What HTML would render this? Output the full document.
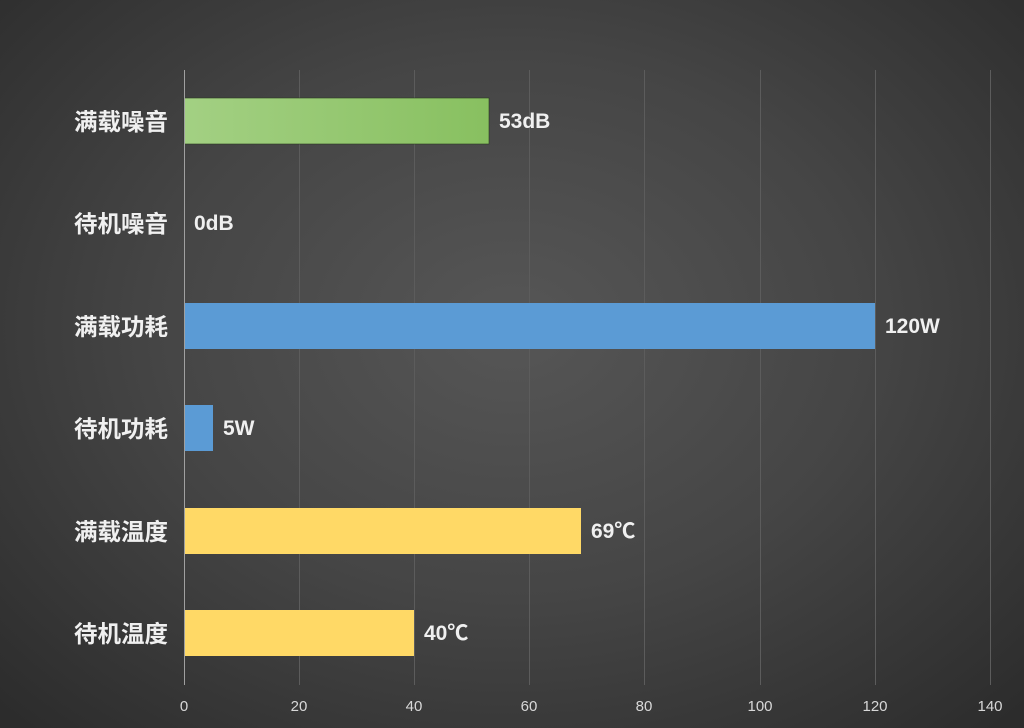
<!DOCTYPE html>
<html><head><meta charset="utf-8"><style>
html,body{margin:0;padding:0}
body{width:1024px;height:728px;overflow:hidden;background:radial-gradient(ellipse 70% 75% at 50% 45%,#565656 0%,#454545 50%,#2c2c2c 100%);font-family:"Liberation Sans","Noto Sans CJK SC",sans-serif;}
</style></head><body>
<svg width="1024" height="728" xmlns="http://www.w3.org/2000/svg" style="position:absolute;left:0;top:0">
<defs>
<linearGradient id="g" x1="0" x2="1"><stop offset="0" stop-color="#a3d083"/><stop offset="1" stop-color="#88c060"/></linearGradient>
</defs>
<g stroke="#5c5c5c" stroke-width="1">
<line x1="299.5" y1="70" x2="299.5" y2="685"/><line x1="414.5" y1="70" x2="414.5" y2="685"/>
<line x1="529.5" y1="70" x2="529.5" y2="685"/><line x1="644.5" y1="70" x2="644.5" y2="685"/>
<line x1="760.5" y1="70" x2="760.5" y2="685"/><line x1="875.5" y1="70" x2="875.5" y2="685"/>
<line x1="990.5" y1="70" x2="990.5" y2="685"/>
</g>
<g>
<rect x="184" y="98" width="305" height="46" fill="url(#g)" stroke="#2a3a20" stroke-width="0.6"/>
<rect x="184" y="303" width="691" height="46" fill="#5b9bd5"/>
<rect x="184" y="405" width="29" height="46" fill="#5b9bd5"/>
<rect x="184" y="508" width="397" height="46" fill="#ffd966"/>
<rect x="184" y="610" width="230" height="46" fill="#ffd966"/>
</g>
<line x1="184.5" y1="70" x2="184.5" y2="685" stroke="#a0a0a0" stroke-width="1"/>
<g font-size="23.5" font-weight="bold" fill="#f0f0f0" text-anchor="end" font-family="Liberation Sans,Noto Sans CJK SC,sans-serif">
<text x="168" y="130">满载噪音</text>
<text x="168" y="232">待机噪音</text>
<text x="168" y="335">满载功耗</text>
<text x="168" y="437">待机功耗</text>
<text x="168" y="540">满载温度</text>
<text x="168" y="642">待机温度</text>
</g>
<g font-size="21" font-weight="bold" fill="#f0f0f0" font-family="Liberation Sans,Noto Sans CJK SC,sans-serif">
<text x="499" y="128">53dB</text>
<text x="194" y="230">0dB</text>
<text x="885" y="333">120W</text>
<text x="223" y="435">5W</text>
<text x="591" y="538">69℃</text>
<text x="424" y="640">40℃</text>
</g>
<g font-size="15" fill="#d8d8d8" text-anchor="middle" font-family="Liberation Sans,sans-serif">
<text x="184" y="711">0</text><text x="299" y="711">20</text><text x="414" y="711">40</text>
<text x="529" y="711">60</text><text x="644" y="711">80</text><text x="760" y="711">100</text>
<text x="875" y="711">120</text><text x="990" y="711">140</text>
</g>
</svg>
</body></html>
